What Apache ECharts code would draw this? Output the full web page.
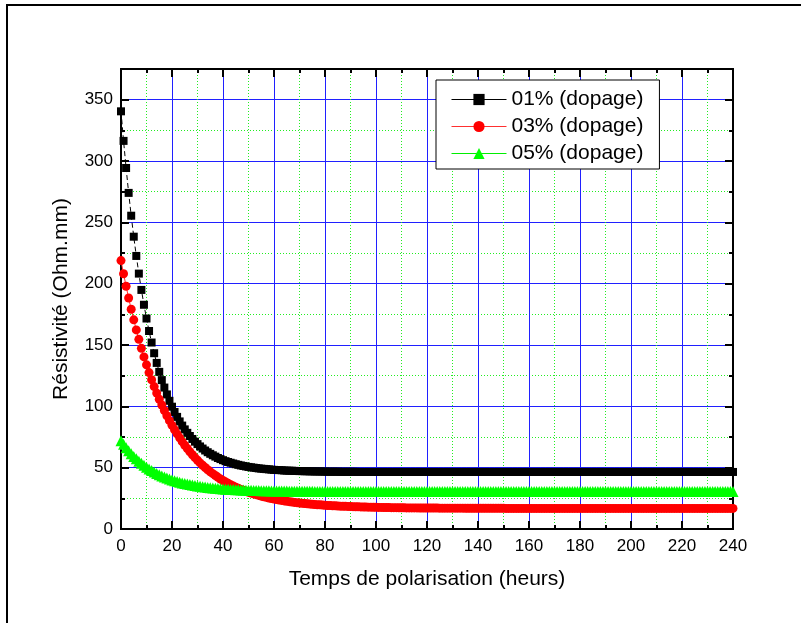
<!DOCTYPE html>
<html>
<head>
<meta charset="utf-8">
<script src="https://cdn.jsdelivr.net/npm/echarts@6/dist/echarts.min.js"></script>
<style>
  html, body { margin: 0; padding: 0; background: #fff; }
  #chart { width: 801px; height: 623px; }
</style>
</head>
<body>
<div id="chart"></div>
<script>
// temps de polarisation (heures)
var hours = [
  0, 1, 2, 3, 4, 5, 6, 7, 8, 9,
  10, 11, 12, 13, 14, 15, 16, 17, 18, 19,
  20, 21, 22, 23, 24, 25, 26, 27, 28, 29,
  30, 31, 32, 33, 34, 35, 36, 37, 38, 39,
  40, 41, 42, 43, 44, 45, 46, 47, 48, 49,
  50, 51, 52, 53, 54, 55, 56, 57, 58, 59,
  60, 61, 62, 63, 64, 65, 66, 67, 68, 69,
  70, 71, 72, 73, 74, 75, 76, 77, 78, 79,
  80, 81, 82, 83, 84, 85, 86, 87, 88, 89,
  90, 91, 92, 93, 94, 95, 96, 97, 98, 99,
  100, 101, 102, 103, 104, 105, 106, 107, 108, 109,
  110, 111, 112, 113, 114, 115, 116, 117, 118, 119,
  120, 121, 122, 123, 124, 125, 126, 127, 128, 129,
  130, 131, 132, 133, 134, 135, 136, 137, 138, 139,
  140, 141, 142, 143, 144, 145, 146, 147, 148, 149,
  150, 151, 152, 153, 154, 155, 156, 157, 158, 159,
  160, 161, 162, 163, 164, 165, 166, 167, 168, 169,
  170, 171, 172, 173, 174, 175, 176, 177, 178, 179,
  180, 181, 182, 183, 184, 185, 186, 187, 188, 189,
  190, 191, 192, 193, 194, 195, 196, 197, 198, 199,
  200, 201, 202, 203, 204, 205, 206, 207, 208, 209,
  210, 211, 212, 213, 214, 215, 216, 217, 218, 219,
  220, 221, 222, 223, 224, 225, 226, 227, 228, 229,
  230, 231, 232, 233, 234, 235, 236, 237, 238, 239,
  240
];

// 01% (dopage)
var dop01 = [
  340.5, 316.4, 294.3, 274.0, 255.4, 238.3, 222.6, 208.2, 194.9, 182.8,
  171.6, 161.4, 152.0, 143.3, 135.4, 128.1, 121.4, 115.3, 109.7, 104.5,
  99.7, 95.4, 91.4, 87.7, 84.3, 81.2, 78.4, 75.8, 73.4, 71.2,
  69.2, 67.3, 65.6, 64.0, 62.6, 61.3, 60.1, 59.0, 57.9, 57.0,
  56.1, 55.3, 54.6, 54.0, 53.4, 52.8, 52.3, 51.8, 51.4, 51.0,
  50.6, 50.3, 50.0, 49.7, 49.4, 49.2, 49.0, 48.8, 48.6, 48.4,
  48.2, 48.1, 48.0, 47.9, 47.7, 47.6, 47.5, 47.5, 47.4, 47.3,
  47.2, 47.2, 47.1, 47.1, 47.0, 47.0, 46.9, 46.9, 46.9, 46.8,
  46.8, 46.7, 46.7, 46.7, 46.7, 46.7, 46.6, 46.6, 46.6, 46.6,
  46.6, 46.6, 46.6, 46.5, 46.5, 46.5, 46.5, 46.5, 46.5, 46.5,
  46.5, 46.5, 46.5, 46.5, 46.5, 46.5, 46.5, 46.5, 46.5, 46.5,
  46.5, 46.5, 46.5, 46.5, 46.5, 46.5, 46.5, 46.5, 46.5, 46.5,
  46.5, 46.5, 46.5, 46.5, 46.5, 46.5, 46.5, 46.5, 46.5, 46.5,
  46.5, 46.5, 46.5, 46.5, 46.5, 46.5, 46.5, 46.5, 46.5, 46.5,
  46.5, 46.5, 46.5, 46.5, 46.5, 46.5, 46.5, 46.5, 46.5, 46.5,
  46.5, 46.5, 46.5, 46.5, 46.5, 46.5, 46.5, 46.5, 46.5, 46.5,
  46.5, 46.5, 46.5, 46.5, 46.5, 46.5, 46.5, 46.5, 46.5, 46.5,
  46.5, 46.5, 46.5, 46.5, 46.5, 46.5, 46.5, 46.5, 46.5, 46.5,
  46.5, 46.5, 46.5, 46.5, 46.5, 46.5, 46.5, 46.5, 46.5, 46.5,
  46.5, 46.5, 46.5, 46.5, 46.5, 46.5, 46.5, 46.5, 46.5, 46.5,
  46.5, 46.5, 46.5, 46.5, 46.5, 46.5, 46.5, 46.5, 46.5, 46.5,
  46.5, 46.5, 46.5, 46.5, 46.5, 46.5, 46.5, 46.5, 46.5, 46.5,
  46.5, 46.5, 46.5, 46.5, 46.5, 46.5, 46.5, 46.5, 46.5, 46.5,
  46.5, 46.5, 46.5, 46.5, 46.5, 46.5, 46.5, 46.5, 46.5, 46.5,
  46.5
];

// 03% (dopage)
var dop03 = [
  218.8, 208.1, 197.9, 188.3, 179.1, 170.5, 162.3, 154.6, 147.3, 140.3,
  133.8, 127.5, 121.7, 116.1, 110.8, 105.8, 101.1, 96.6, 92.3, 88.3,
  84.5, 80.9, 77.5, 74.3, 71.2, 68.3, 65.6, 63.0, 60.5, 58.2,
  56.0, 53.9, 52.0, 50.1, 48.3, 46.6, 45.1, 43.6, 42.1, 40.8,
  39.5, 38.3, 37.2, 36.1, 35.1, 34.1, 33.2, 32.3, 31.5, 30.7,
  30.0, 29.3, 28.6, 28.0, 27.4, 26.8, 26.3, 25.8, 25.3, 24.8,
  24.4, 24.0, 23.6, 23.3, 22.9, 22.6, 22.3, 22.0, 21.7, 21.5,
  21.2, 21.0, 20.8, 20.5, 20.3, 20.2, 20.0, 19.8, 19.7, 19.5,
  19.4, 19.2, 19.1, 19.0, 18.9, 18.7, 18.6, 18.5, 18.5, 18.4,
  18.3, 18.2, 18.1, 18.1, 18.0, 17.9, 17.9, 17.8, 17.8, 17.7,
  17.7, 17.6, 17.6, 17.5, 17.5, 17.5, 17.4, 17.4, 17.4, 17.3,
  17.3, 17.3, 17.2, 17.2, 17.2, 17.2, 17.2, 17.1, 17.1, 17.1,
  17.1, 17.1, 17.1, 17.1, 17.1, 17.0, 17.0, 17.0, 17.0, 17.0,
  17.0, 17.0, 17.0, 17.0, 17.0, 16.9, 16.9, 16.9, 16.9, 16.9,
  16.9, 16.9, 16.9, 16.9, 16.9, 16.9, 16.9, 16.9, 16.9, 16.9,
  16.9, 16.8, 16.8, 16.8, 16.8, 16.8, 16.8, 16.8, 16.8, 16.8,
  16.8, 16.8, 16.8, 16.8, 16.8, 16.8, 16.8, 16.8, 16.8, 16.8,
  16.8, 16.8, 16.8, 16.8, 16.8, 16.8, 16.8, 16.8, 16.8, 16.8,
  16.8, 16.8, 16.8, 16.8, 16.8, 16.8, 16.8, 16.8, 16.8, 16.8,
  16.8, 16.8, 16.8, 16.8, 16.8, 16.8, 16.8, 16.8, 16.8, 16.8,
  16.8, 16.8, 16.8, 16.8, 16.8, 16.8, 16.8, 16.8, 16.8, 16.8,
  16.8, 16.8, 16.8, 16.8, 16.8, 16.8, 16.8, 16.8, 16.8, 16.8,
  16.8, 16.8, 16.8, 16.8, 16.8, 16.8, 16.8, 16.8, 16.8, 16.8,
  16.8, 16.8, 16.8, 16.8, 16.8, 16.8, 16.8, 16.8, 16.8, 16.8,
  16.8
];

// 05% (dopage)
var dop05 = [
  72.0, 69.1, 66.3, 63.8, 61.4, 59.2, 57.2, 55.3, 53.5, 51.9,
  50.4, 49.0, 47.7, 46.5, 45.3, 44.3, 43.3, 42.4, 41.5, 40.8,
  40.0, 39.4, 38.7, 38.2, 37.6, 37.1, 36.6, 36.2, 35.8, 35.4,
  35.1, 34.8, 34.5, 34.2, 33.9, 33.7, 33.4, 33.2, 33.0, 32.9,
  32.7, 32.5, 32.4, 32.3, 32.1, 32.0, 31.9, 31.8, 31.7, 31.6,
  31.6, 31.5, 31.4, 31.3, 31.3, 31.2, 31.2, 31.1, 31.1, 31.0,
  31.0, 31.0, 30.9, 30.9, 30.9, 30.9, 30.8, 30.8, 30.8, 30.8,
  30.7, 30.7, 30.7, 30.7, 30.7, 30.7, 30.6, 30.6, 30.6, 30.6,
  30.6, 30.6, 30.6, 30.6, 30.6, 30.6, 30.5, 30.5, 30.5, 30.5,
  30.5, 30.5, 30.5, 30.5, 30.5, 30.5, 30.5, 30.5, 30.5, 30.5,
  30.5, 30.5, 30.5, 30.5, 30.5, 30.5, 30.5, 30.5, 30.5, 30.5,
  30.5, 30.5, 30.5, 30.5, 30.5, 30.5, 30.5, 30.5, 30.5, 30.5,
  30.5, 30.5, 30.5, 30.5, 30.5, 30.5, 30.5, 30.5, 30.5, 30.5,
  30.5, 30.5, 30.5, 30.5, 30.5, 30.5, 30.5, 30.5, 30.5, 30.5,
  30.5, 30.5, 30.5, 30.5, 30.5, 30.5, 30.5, 30.5, 30.5, 30.5,
  30.5, 30.5, 30.5, 30.5, 30.5, 30.5, 30.5, 30.5, 30.5, 30.5,
  30.5, 30.5, 30.5, 30.5, 30.5, 30.5, 30.5, 30.5, 30.5, 30.5,
  30.5, 30.5, 30.5, 30.5, 30.5, 30.5, 30.5, 30.5, 30.5, 30.5,
  30.5, 30.5, 30.5, 30.5, 30.5, 30.5, 30.5, 30.5, 30.5, 30.5,
  30.5, 30.5, 30.5, 30.5, 30.5, 30.5, 30.5, 30.5, 30.5, 30.5,
  30.5, 30.5, 30.5, 30.5, 30.5, 30.5, 30.5, 30.5, 30.5, 30.5,
  30.5, 30.5, 30.5, 30.5, 30.5, 30.5, 30.5, 30.5, 30.5, 30.5,
  30.5, 30.5, 30.5, 30.5, 30.5, 30.5, 30.5, 30.5, 30.5, 30.5,
  30.5, 30.5, 30.5, 30.5, 30.5, 30.5, 30.5, 30.5, 30.5, 30.5,
  30.5
];

var FONT = 'Liberation Sans, Arial, sans-serif';
var BLUE = '#2020ff';
var GREEN = '#22ee22';

function pairs(ys) {
  return hours.map(function (h, i) { return [h, ys[i]]; });
}

var chart = echarts.init(document.getElementById('chart'));

// y axes: two on each side (25 = dotted minor grid, 50 = main grid + labels)
function yAxis(pos, step, withLabels, withGrid) {
  return {
    type: 'value',
    position: pos,
    min: 0,
    max: 375,
    interval: step,
    axisLine: { show: true, onZero: false, lineStyle: { color: '#000', width: 2 } },
    axisTick: { show: true, inside: true, length: step === 50 ? 8 : 4, lineStyle: { color: '#000', width: 2 } },
    axisLabel: withLabels ? {
      show: true, showMaxLabel: false, margin: 8,
      color: '#000', fontSize: 17, fontFamily: FONT
    } : { show: false },
    splitLine: withGrid ? {
      show: true, showMinLine: false, showMaxLine: false,
      lineStyle: step === 50 ? { color: BLUE, width: 1 } : { color: GREEN, width: 1, type: [1, 2] }
    } : { show: false }
  };
}

function xAxis(pos, bottom) {
  return {
    type: 'value',
    position: pos,
    min: 0,
    max: 240,
    interval: 20,
    axisLine: { show: true, onZero: false, lineStyle: { color: '#000', width: 2 } },
    axisTick: { show: true, inside: true, length: 8, lineStyle: { color: '#000', width: 2 } },
    minorTick: { show: true, splitNumber: 2, length: 4, lineStyle: { color: '#000', width: 2 } },
    axisLabel: bottom ? { show: true, margin: 9, color: '#000', fontSize: 17, fontFamily: FONT } : { show: false },
    splitLine: bottom ? { show: true, showMinLine: false, showMaxLine: false, lineStyle: { color: BLUE, width: 1 } } : { show: false },
    minorSplitLine: bottom ? { show: true, lineStyle: { color: GREEN, width: 1, type: [1, 2] } } : { show: false },
    name: bottom ? 'Temps de polarisation (heurs)' : '',
    nameLocation: 'middle',
    nameGap: 40,
    nameTextStyle: { color: '#000', fontSize: 21, fontFamily: FONT }
  };
}

var yLeftMinor = yAxis('left', 25, false, true);
var yLeftMain = yAxis('left', 50, true, true);
yLeftMain.name = 'Résistivité (Ohm.mm)';
yLeftMain.nameLocation = 'middle';
yLeftMain.nameGap = 49;
yLeftMain.nameTextStyle = { color: '#000', fontSize: 21, fontFamily: FONT };

chart.setOption({
  animation: false,
  backgroundColor: '#fff',
  graphic: [{
    type: 'rect',
    shape: { x: 7, y: 5, width: 900, height: 700 },
    style: { fill: 'none', stroke: '#000', lineWidth: 2 },
    z: 100
  }],
  grid: { left: 121, right: 68, top: 69, bottom: 94, containLabel: false },
  legend: {
    orient: 'vertical',
    left: 436,
    top: 80,
    padding: [9, 16, 5, 15],
    itemGap: 6,
    itemWidth: 55,
    itemHeight: 14,
    backgroundColor: '#fff',
    borderColor: '#000',
    borderWidth: 1,
    borderRadius: 0,
    textStyle: { color: '#000', fontSize: 21, fontFamily: FONT },
    lineStyle: { type: 'solid', width: 1 },
    data: ['01% (dopage)', '03% (dopage)', '05% (dopage)']
  },
  xAxis: [xAxis('bottom', true), xAxis('top', false)],
  yAxis: [yLeftMinor, yLeftMain, yAxis('right', 25, false, false), yAxis('right', 50, false, false)],
  series: [{
    name: '01% (dopage)',
    type: 'line',
    xAxisIndex: 0,
    yAxisIndex: 1,
    data: pairs(dop01),
    symbol: 'rect',
    symbolSize: 8,
    showAllSymbol: true,
    color: '#000',
    itemStyle: { color: '#000' },
    lineStyle: { color: '#000', width: 1, type: [5, 3] }
  }, {
    name: '03% (dopage)',
    type: 'line',
    xAxisIndex: 0,
    yAxisIndex: 1,
    data: pairs(dop03),
    symbol: 'circle',
    symbolSize: 9,
    showAllSymbol: true,
    color: '#ff0000',
    itemStyle: { color: '#ff0000' },
    lineStyle: { color: '#ff3030', width: 1 }
  }, {
    name: '05% (dopage)',
    type: 'line',
    xAxisIndex: 0,
    yAxisIndex: 1,
    data: pairs(dop05),
    symbol: 'triangle',
    symbolSize: 11,
    showAllSymbol: true,
    color: '#00ff00',
    itemStyle: { color: '#00ff00' },
    lineStyle: { color: '#00ee00', width: 1 }
  }]
});
</script>
</body>
</html>
